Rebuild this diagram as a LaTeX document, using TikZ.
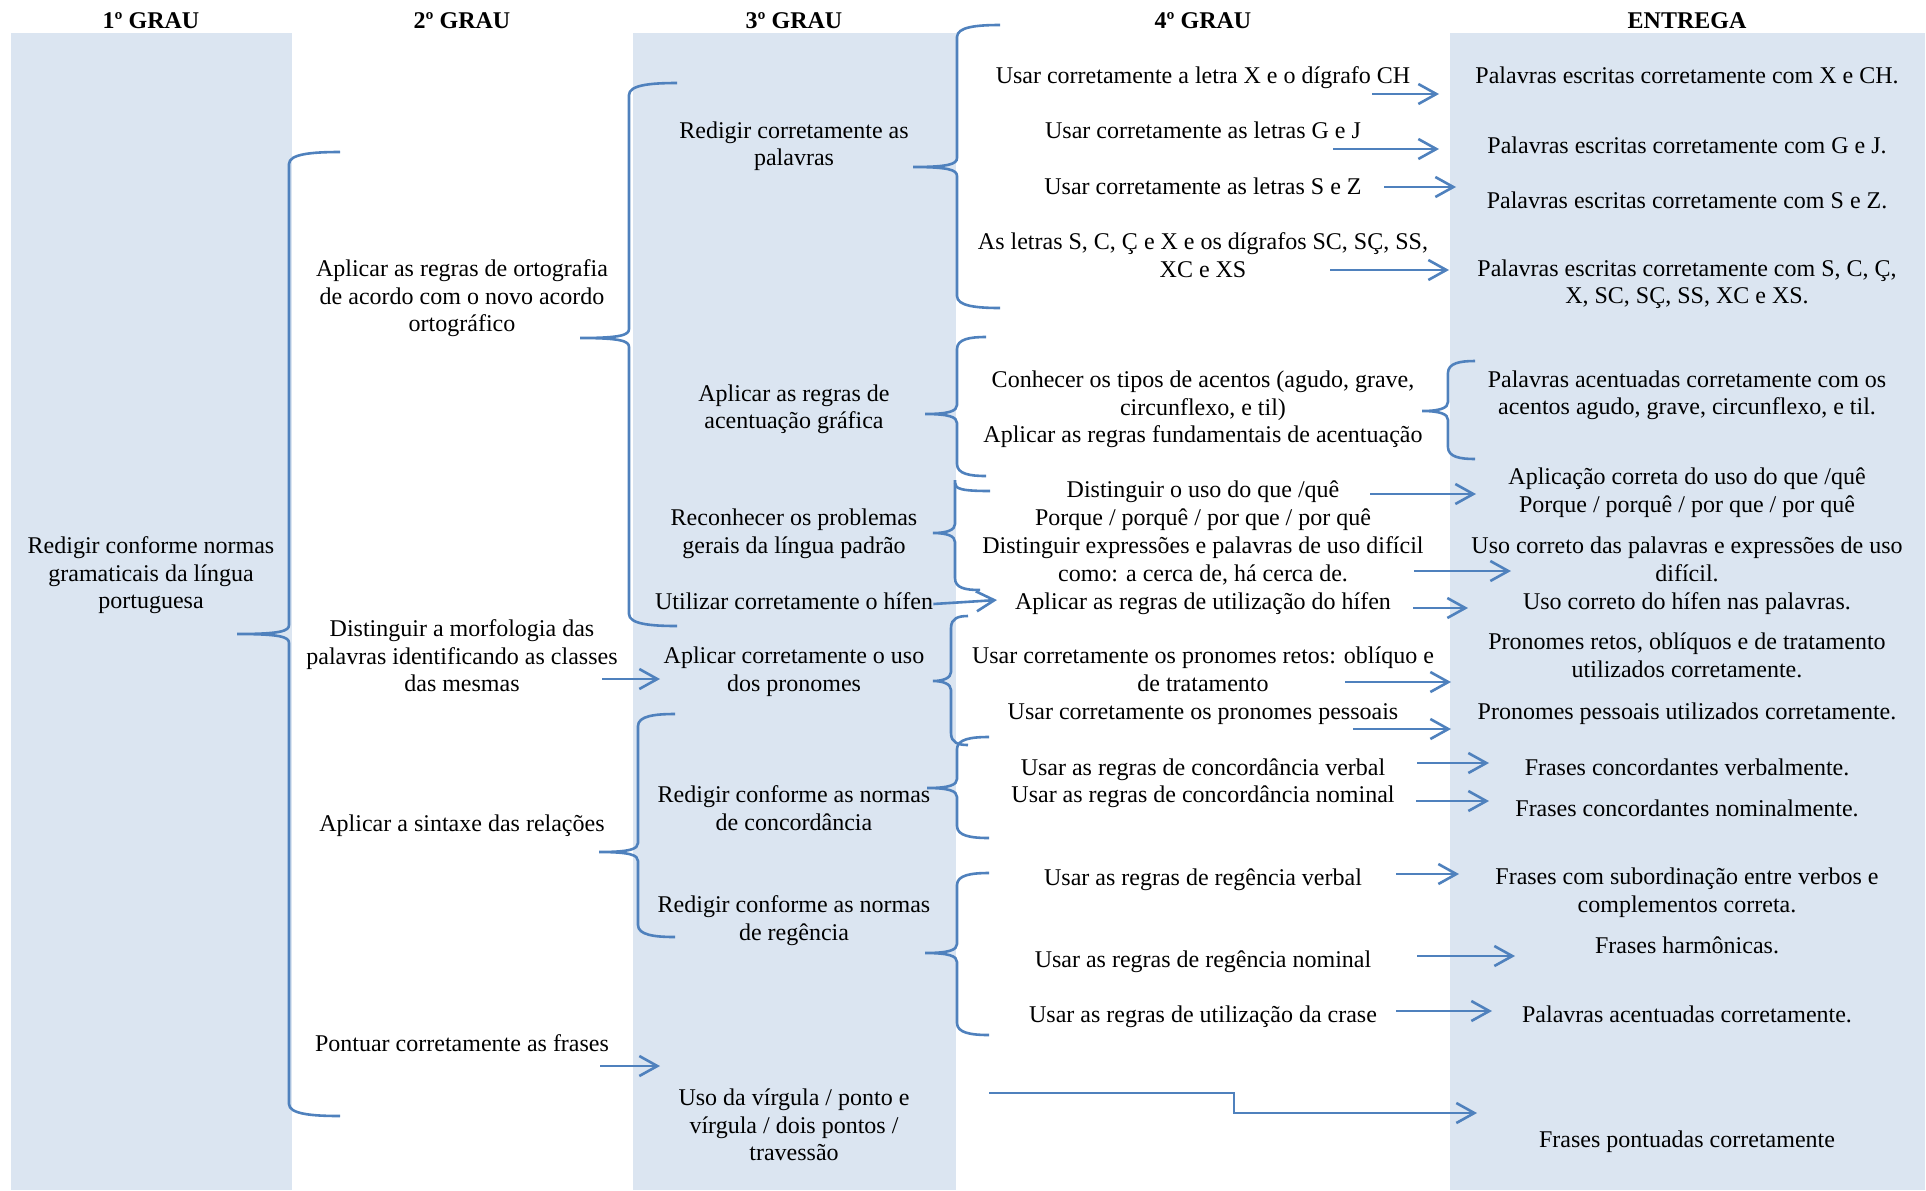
\documentclass[tikz,border=0pt]{standalone}
\usepackage{fontspec}
\setmainfont{Liberation Serif}
\usetikzlibrary{arrows.meta}
\definecolor{lnblue}{RGB}{79,129,189}
\definecolor{bgblue}{RGB}{219,229,241}
% tip x, tip y, vertical x, end x, top y, bottom y
\newcommand\curlybrace[6]{%
  \draw[brc] (#4,#5) .. controls ({#3+0.45*(#4-#3)},#5) and (#3,{#5+2}) .. (#3,{#5+12})
    -- (#3,{#2-9}) .. controls (#3,{#2-3}) and ({#3-8},#2) .. (#1,#2)
    .. controls ({#3-8},#2) and (#3,{#2+3}) .. (#3,{#2+9})
    -- (#3,{#6-12}) .. controls (#3,{#6-2}) and ({#3+0.45*(#4-#3)},#6) .. (#4,#6);}
% name, x start, x end, y
\newcommand\myarrow[4]{%
  \coordinate (#1s) at (#2,#4); \coordinate (#1e) at (#3,#4);
  \draw[arr] (#1s) -- (#1e);}
\begin{document}
\begin{tikzpicture}[x=0.5pt,y=-0.5pt,
  txt/.style={align=center, inner sep=0pt, yshift=-2pt, font=\fontsize{12}{13.8}\selectfont,
    execute at begin node=\strut, execute at end node=\strut},
  hdr/.style={inner sep=0pt, yshift=-1.5pt, font=\bfseries\fontsize{12}{13.8}\selectfont,
    execute at begin node=\strut},
  brc/.style={draw=lnblue, line width=1.3pt},
  arr/.style={draw=lnblue, line width=1.3pt, -{Straight Barb[length=9pt,width=10pt]}}]
\useasboundingbox (0,0) rectangle (1926,1190);
% column backgrounds
\fill[bgblue] (11,33) rectangle (292,1190);
\fill[bgblue] (633,33) rectangle (956,1190);
\fill[bgblue] (1450,33) rectangle (1925,1190);
% headers
\node[hdr] (h1) at (151,20) {1º GRAU};
\node[hdr] (h2) at (462,20) {2º GRAU};
\node[hdr] (h3) at (794,20) {3º GRAU};
\node[hdr] (h4) at (1203,20) {4º GRAU};
\node[hdr] (h5) at (1687,20) {ENTREGA};
% column 1
\node[txt] (g1) at (151,573) {Redigir conforme normas\\gramaticais da língua\\portuguesa};
% column 2
\node[txt] (g2a) at (462,296) {Aplicar as regras de ortografia\\de acordo com o novo acordo\\ortográfico};
\node[txt] (g2b) at (462,656) {Distinguir a morfologia das\\palavras identificando as classes\\das mesmas};
\node[txt] (g2c) at (462,822) {Aplicar a sintaxe das relações};
\node[txt] (g2d) at (462,1042) {Pontuar corretamente as frases};
% column 3
\node[txt] (g3a) at (794,144) {Redigir corretamente as\\palavras};
\node[txt] (g3b) at (794,407) {Aplicar as regras de\\acentuação gráfica};
\node[txt] (g3c) at (794,531) {Reconhecer os problemas\\gerais da língua padrão};
\node[txt] (g3d) at (794,600) {Utilizar corretamente o hífen};
\node[txt] (g3e) at (794,669) {Aplicar corretamente o uso\\dos pronomes};
\node[txt] (g3f) at (794,808) {Redigir conforme as normas\\de concordância};
\node[txt] (g3g) at (794,918) {Redigir conforme as normas\\de regência};
\node[txt] (g3h) at (794,1125) {Uso da vírgula / ponto e\\vírgula / dois pontos /\\travessão};
% column 4
\node[txt] (g4a) at (1203,74) {Usar corretamente a letra X e o dígrafo CH};
\node[txt] (g4b) at (1203,129) {Usar corretamente as letras G e J};
\node[txt] (g4c) at (1203,185) {Usar corretamente as letras S e Z};
\node[txt] (g4d) at (1203,255) {As letras S, C, Ç e X e os dígrafos SC, SÇ, SS,\\XC e XS};
\node[txt] (g4e) at (1203,407) {Conhecer os tipos de acentos (agudo, grave,\\circunflexo, e til)\\Aplicar as regras fundamentais de acentuação};
\node[txt] (g4f) at (1203,503) {Distinguir o uso do que /quê\\Porque / porquê / por que / por quê};
\node[txt] (g4g) at (1203,559) {Distinguir expressões e palavras de uso difícil\\como: a cerca de, há cerca de.};
\node[txt] (g4h) at (1203,600) {Aplicar as regras de utilização do hífen};
\node[txt] (g4i) at (1203,669) {Usar corretamente os pronomes retos: oblíquo e\\de tratamento};
\node[txt] (g4j) at (1203,710) {Usar corretamente os pronomes pessoais};
\node[txt] (g4k) at (1203,766) {Usar as regras de concordância verbal};
\node[txt] (g4l) at (1203,793) {Usar as regras de concordância nominal};
\node[txt] (g4m) at (1203,876) {Usar as regras de regência verbal};
\node[txt] (g4n) at (1203,958) {Usar as regras de regência nominal};
\node[txt] (g4o) at (1203,1013) {Usar as regras de utilização da crase};
% entrega
\node[txt] (e1) at (1687,74) {Palavras escritas corretamente com X e CH.};
\node[txt] (e2) at (1687,144) {Palavras escritas corretamente com G e J.};
\node[txt] (e3) at (1687,199) {Palavras escritas corretamente com S e Z.};
\node[txt] (e4) at (1687,282) {Palavras escritas corretamente com S, C, Ç,\\X, SC, SÇ, SS, XC e XS.};
\node[txt] (e5) at (1687,393) {Palavras acentuadas corretamente com os\\acentos agudo, grave, circunflexo, e til.};
\node[txt] (e6) at (1687,490) {Aplicação correta do uso do que /quê\\Porque / porquê / por que / por quê};
\node[txt] (e7) at (1687,559) {Uso correto das palavras e expressões de uso\\difícil.};
\node[txt] (e8) at (1687,600) {Uso correto do hífen nas palavras.};
\node[txt] (e9) at (1687,655) {Pronomes retos, oblíquos e de tratamento\\utilizados corretamente.};
\node[txt] (e10) at (1687,710) {Pronomes pessoais utilizados corretamente.};
\node[txt] (e11) at (1687,766) {Frases concordantes verbalmente.};
\node[txt] (e12) at (1687,807) {Frases concordantes nominalmente.};
\node[txt] (e13) at (1687,890) {Frases com subordinação entre verbos e\\complementos correta.};
\node[txt] (e14) at (1687,944) {Frases harmônicas.};
\node[txt] (e15) at (1687,1013) {Palavras acentuadas corretamente.};
\node[txt] (e16) at (1687,1138) {Frases pontuadas corretamente};
% braces
\curlybrace{237}{634}{289}{340}{152}{1116}
\curlybrace{580}{338}{629}{677}{83}{626}
\curlybrace{599}{852}{638}{675}{714}{937}
\curlybrace{913}{167}{957}{1000}{25}{308}
\curlybrace{925}{414}{957}{986}{337}{476}
\draw[brc] (955,480) -- (955,524) .. controls (955,530) and (947,533) .. (933,533)
  .. controls (947,533) and (955,536) .. (955,542) -- (955,578)
  .. controls (955,588) and (965,590) .. (980,590);
\draw[brc] (955,483) .. controls (955,489) and (962,491) .. (990,491);
\curlybrace{933}{681}{951}{968}{616}{745}
\curlybrace{927}{788}{957}{989}{737}{838}
\curlybrace{925}{953}{957}{989}{873}{1035}
\curlybrace{1422}{411}{1448}{1475}{361}{459}
% arrows
\myarrow{b1}{602}{660}{679}
\myarrow{b2}{600}{660}{1066}
\coordinate (hy) at (997,600);
\draw[arr] (g3d.east) -- (hy);
\myarrow{a1}{1372}{1439}{94}
\myarrow{a2}{1333}{1439}{149}
\myarrow{a3}{1384}{1456}{187}
\myarrow{a4}{1330}{1449}{270}
\myarrow{a5}{1370}{1476}{494}
\myarrow{a6}{1414}{1511}{571}
\myarrow{a7}{1413}{1468}{608}
\myarrow{a8}{1345}{1451}{682}
\myarrow{a9}{1353}{1451}{729}
\myarrow{a10}{1417}{1489}{763}
\myarrow{a11}{1416}{1489}{801}
\myarrow{a12}{1396}{1459}{874}
\myarrow{a13}{1417}{1515}{956}
\myarrow{a14}{1396}{1492}{1011}
\coordinate (ps) at (989,1093);
\coordinate (pm) at (1234,1113);
\coordinate (pe) at (1477,1113);
\draw[arr] (ps) -| (pm) -- (pe);
\end{tikzpicture}
\end{document}
